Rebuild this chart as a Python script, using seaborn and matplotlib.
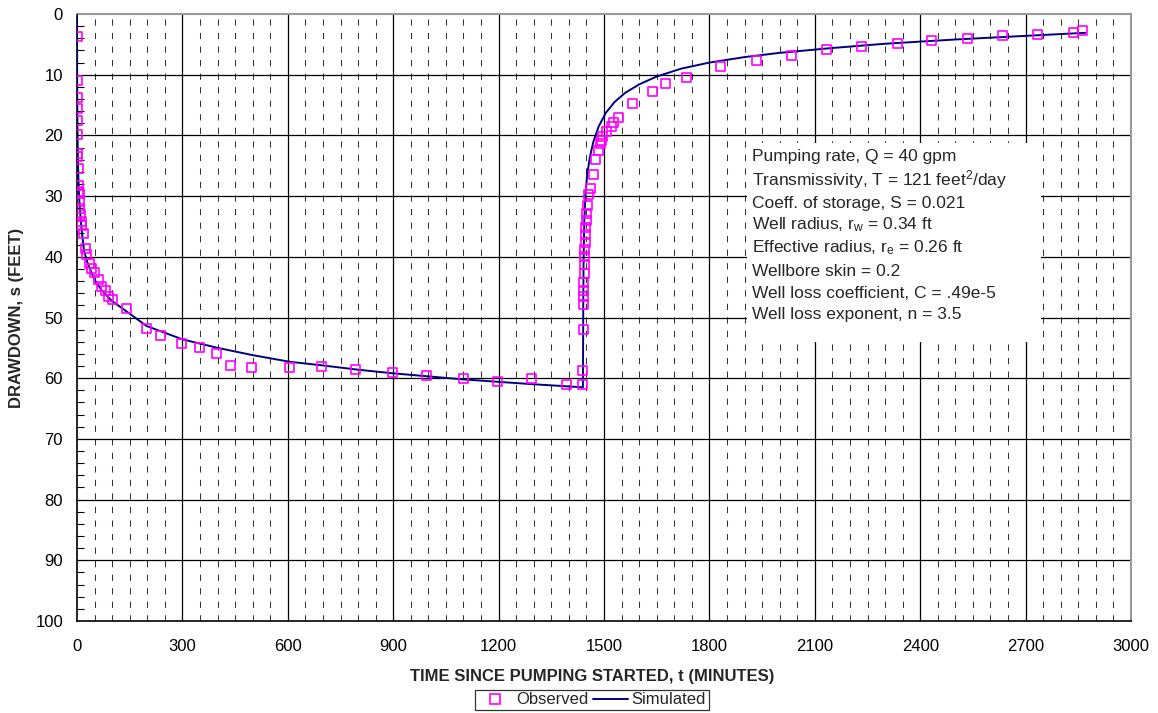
import numpy as np
import pandas as pd
import matplotlib
matplotlib.use("Agg")
import matplotlib.pyplot as plt
from matplotlib.ticker import MultipleLocator
import seaborn as sns

# ---------------- data ----------------
obs_t = [0, 0.3, 0.6, 0.9, 1.2, 1.5, 2, 2.3, 3, 3.7, 4.5, 5.7, 7, 8.5, 11, 13, 14, 18, 23, 28, 37, 42, 49, 61, 70, 80, 89, 100,
         141, 198, 238, 298, 348, 398, 438, 497, 606, 697, 794, 897, 996, 1099, 1198, 1295, 1392, 1438,
         1440, 1441, 1442, 1442, 1443, 1443, 1444, 1444, 1445, 1445, 1446, 1447, 1448, 1449, 1450, 1452,
         1456, 1462, 1469, 1477, 1483, 1489, 1493, 1497, 1508, 1520, 1528, 1540,
         1580, 1637, 1676, 1736, 1833, 1935, 2035, 2134, 2234, 2334, 2433, 2536, 2635, 2735, 2835, 2863]
obs_s = [3.7, 10.9, 13.8, 15.5, 17.5, 19.8, 22.9, 23.4, 25.4, 28.2, 29.3, 29.5, 30.9, 32, 33.1, 34.2, 34.8, 36.1, 38.6, 39.7, 41.1, 41.9, 42.6, 43.8, 44.9, 45.6, 46.6, 47,
         48.5, 51.8, 53, 54.3, 55, 55.9, 57.9, 58.3, 58.2, 58, 58.6, 59.1, 59.5, 60.1, 60.6, 60.1, 61.1, 61.1,
         58.8, 51.9, 47.8, 46.5, 45.5, 44.3, 42.8, 41.3, 40, 38.8, 37.6, 36.4, 35.2, 34, 32.8, 31.5,
         29.7, 28.8, 26.5, 24, 22.5, 21.3, 20.8, 20.1, 19.3, 18.6, 17.8, 17.1,
         14.8, 12.8, 11.5, 10.4, 8.7, 7.7, 6.8, 5.8, 5.3, 4.8, 4.3, 4.0, 3.6, 3.3, 3.0, 2.8]

sim_t = [0, 0.5, 1, 2, 3, 5, 7, 10, 15, 20, 30, 50, 70, 100, 141, 198, 300, 400, 500, 606, 700, 800, 900, 1000,
         1100, 1200, 1300, 1440,
         1440.5, 1441, 1442, 1444, 1447, 1452, 1460, 1470, 1485, 1505, 1530, 1560, 1600, 1650, 1720, 1800,
         1900, 2000, 2150, 2300, 2500, 2700, 2870]
sim_s = [0, 12, 17, 22, 25, 29, 31, 33.5, 36.5, 39, 41, 43.8, 45.5, 47.3, 49, 51.4, 53.6, 55, 56.2, 57.3, 57.9, 58.6, 59.2, 59.7,
         60.2, 60.6, 61.0, 61.5,
         55, 47, 40, 34, 30, 26.5, 23.5, 21, 18.5, 16.3, 14.5, 13, 11.6, 10.3, 9.0, 8.0,
         7.1, 6.4, 5.6, 4.9, 4.2, 3.6, 3.1]

x_ticks = [0, 300, 600, 900, 1200, 1500, 1800, 2100, 2400, 2700, 3000]
y_ticks = [0, 10, 20, 30, 40, 50, 60, 70, 80, 90, 100]

info_lines = [
    "Pumping rate, Q = 40 gpm",
    "Transmissivity, T = 121 feet$^2$/day",
    "Coeff. of storage, S = 0.021",
    "Well radius, r$_\\mathregular{w}$ = 0.34 ft",
    "Effective radius, r$_\\mathregular{e}$ = 0.26 ft",
    "Wellbore skin = 0.2",
    "Well loss coefficient, C = .49e-5",
    "Well loss exponent, n = 3.5",
]

obs_df = pd.DataFrame({"t": obs_t, "s": obs_s})
sim_df = pd.DataFrame({"t": sim_t, "s": sim_s})

# ---------------- style ----------------
sns.set_theme(style="white")
plt.rcParams["font.family"] = ["Liberation Sans", "DejaVu Sans"]
plt.rcParams["mathtext.fontset"] = "custom"
plt.rcParams["mathtext.rm"] = "Liberation Sans"
plt.rcParams["mathtext.it"] = "Liberation Sans"

FS = 12

fig = plt.figure(figsize=(11.58, 7.13), dpi=100)
ax = fig.add_axes([77 / 1158, 1 - 621 / 713, (1131 - 77) / 1158, (621 - 14) / 713])

# minor dashed vertical lines
for xv in np.arange(50, 3000, 50):
    if xv % 300 != 0:
        ax.axvline(xv, color="#333333", lw=0.75, ls=(0, (6, 7)), zorder=1)
# major grid
for xv in x_ticks[1:-1]:
    ax.axvline(xv, color="black", lw=0.9, zorder=1)
for yv in y_ticks[1:-1]:
    ax.axhline(yv, color="black", lw=0.9, zorder=1)

# info box (white patch covering grid)
ax.add_patch(plt.Rectangle((1906, 21.3), 838, 32.7, facecolor="white", edgecolor="none", zorder=2))
baselines = [24.2, 28.3, 31.9, 35.4, 39.3, 43.2, 46.8, 50.3]
for b, line in zip(baselines, info_lines):
    ax.text(1922, b, line, fontsize=12.5, va="baseline", ha="left", zorder=3)

sns.lineplot(data=sim_df, x="t", y="s", ax=ax, color="#000080", lw=1.4, sort=False,
             estimator=None, zorder=4, label="Simulated", legend=False)
sns.scatterplot(data=obs_df, x="t", y="s", ax=ax, marker="s", s=42, facecolor="none",
                edgecolor="#FF00FF", linewidth=1.2, zorder=5, label="Observed", legend=False)

ax.set_xlim(0, 3000)
ax.set_ylim(100, 0)
ax.set_xticks(x_ticks)
ax.set_yticks(y_ticks)
ax.yaxis.set_minor_locator(MultipleLocator(2))
ax.tick_params(axis="both", which="major", labelsize=FS, length=0, colors="black")
ax.tick_params(axis="x", which="major", pad=13)
ax.tick_params(axis="y", which="major", pad=10)
ax.tick_params(axis="y", which="minor", direction="in", length=5, width=0.8, color="black", left=True)
ax.set_xlabel("TIME SINCE PUMPING STARTED, t (MINUTES)", fontsize=FS, fontweight="bold")
ax.set_ylabel("DRAWDOWN, s (FEET)", fontsize=FS, fontweight="bold")
ax.xaxis.set_label_coords((592 - 77) / 1054, -(669 - 621) / 607)
ax.yaxis.set_label_coords(-(77 - 24) / 1054, 0.5)

for side in ["left", "bottom"]:
    ax.spines[side].set_color("black")
    ax.spines[side].set_linewidth(1.2)
for side in ["top", "right"]:
    ax.spines[side].set_color("#999999")
    ax.spines[side].set_linewidth(1.5)

h_obs = plt.Line2D([], [], marker="s", ls="none", markerfacecolor="none", markeredgecolor="#FF00FF",
                   markersize=6.5, markeredgewidth=1.2)
h_sim = plt.Line2D([], [], color="#000080", lw=1.4)
leg = fig.legend([h_obs, h_sim], ["Observed", "Simulated"], loc="center", ncol=2,
                 bbox_to_anchor=(592 / 1158, 1 - 700 / 713), fontsize=FS, frameon=True,
                 fancybox=False, edgecolor="black", borderpad=0.15, handlelength=2.1,
                 handletextpad=0.2, columnspacing=0.3)
leg.get_frame().set_linewidth(0.9)

fig.savefig("out.png", dpi=100, facecolor="white")
